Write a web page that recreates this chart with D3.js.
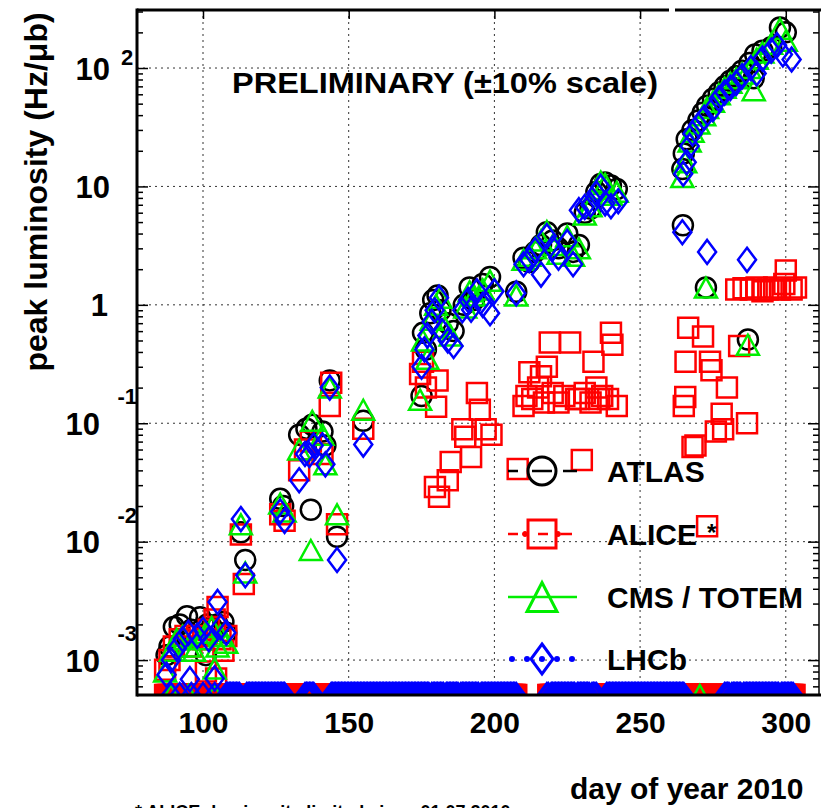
<!DOCTYPE html>
<html>
<head>
<meta charset="utf-8">
<script src="https://cdn.jsdelivr.net/npm/d3@7"></script>
<style>
  body { margin: 0; background: #fff; }
  svg { display: block; font-family: "Liberation Sans", Arial, Helvetica, sans-serif; font-weight: bold; }
</style>
</head>
<body>
<script>
// series names, in legend order
const seriesNames = ["ATLAS", "ALICE", "CMS / TOTEM", "LHCb"];

// [day of year, peak luminosity in Hz/ub]
const atlasPoints = [
  [87.5, 1.1e-3], [88.5, 1.3e-3], [90, 1.9e-3], [92, 2.0e-3], [94.5, 2.35e-3], [96, 1.8e-3], [99, 2.3e-3],
  [101, 1.1e-3], [101.5, 2.0e-3], [103, 1.9e-3], [105, 2.0e-3], [107, 2.1e-3], [108, 1.7e-3],
  [113, 1.2e-2], [114.5, 7.0e-3], [126.5, 2.3e-2], [127.5, 2.0e-2],
  [133, 0.08], [135.5, 0.09], [137, 0.0186], [137.5, 0.097], [141, 0.085], [142, 0.065], [143.5, 0.23],
  [146, 0.011], [155, 0.105],
  [175, 0.17], [175.5, 0.58], [176.5, 0.42], [178, 0.85], [179, 1.1], [180.5, 1.2], [181.5, 0.9], [184, 0.7],
  [186, 0.6], [189.5, 1.0], [191.5, 1.4], [193, 1.1], [196, 1.5], [198.5, 1.72],
  [207.5, 1.29], [210, 2.5], [212, 2.3], [214, 2.8], [216, 3.2], [218, 4.1], [220, 3.5], [222, 3.0], [225, 4.0],
  [227, 2.8], [229, 3.2], [231, 6.0], [233, 6.5], [235, 9.0], [236.5, 10.5], [238, 10.8], [240, 10.2], [242, 9.5],
  [264.5, 14], [264.7, 4.7], [265, 19], [266, 25], [268, 30], [270, 36], [271.5, 42], [272.6, 1.4], [273, 48],
  [275, 55], [277, 62], [279, 70], [281, 78], [283, 85], [285, 95], [287, 0.51], [287.5, 110], [289, 82],
  [289.5, 130], [292, 140], [295, 150], [298, 220], [300, 200]
];

const alicePoints = [
  [87, 8.3e-4], [88.5, 1.0e-3], [90, 1.3e-3], [92, 1.5e-3], [94, 1.6e-3], [96, 1.3e-3], [98, 1.6e-3], [100, 1.5e-3],
  [101, 8e-4], [102, 1.8e-3], [104, 2.2e-3], [104.5, 7e-4], [105, 2.8e-3], [106, 1.5e-3], [107, 1.2e-3], [108, 1.6e-3],
  [113, 1.15e-2], [114, 4.4e-3], [126.5, 1.7e-2], [128, 1.5e-2],
  [133, 0.04], [135, 0.06], [137, 0.07], [141, 0.055], [143.5, 0.14], [144, 0.22], [146, 0.014], [155, 0.09],
  [174.5, 0.26], [175.5, 0.33], [176.5, 0.2], [179.6, 0.029], [180, 0.138], [180.5, 0.23], [181, 0.024],
  [184, 0.033], [185, 0.047], [189, 0.089], [190, 0.077], [192, 0.052], [194, 0.18], [195, 0.13], [197, 0.089], [199, 0.08],
  [208, 0.041], [210, 0.14], [211, 0.17], [212, 0.27], [213, 0.16], [215, 0.2], [216, 0.25], [217, 0.15], [218, 0.3],
  [219, 0.48], [220, 0.18], [222, 0.15], [224, 0.17], [226, 0.48], [228, 0.16], [229, 0.16], [230, 0.049], [231, 0.18],
  [233, 0.15], [234, 0.33], [235, 0.2], [236, 0.16], [237, 0.17], [239, 0.16], [240, 0.58], [240.5, 0.46], [242, 0.14],
  [265, 0.14], [265.5, 0.167], [265.6, 0.33], [266.5, 0.64], [268, 0.063], [269, 0.065], [271.6, 0.54], [273, 0.0135],
  [274, 0.33], [274.5, 0.28], [276, 0.085], [278, 0.12], [278.5, 0.089], [279.8, 0.2], [284, 0.45], [286.7, 0.1],
  [283, 1.35], [285.5, 1.38], [288, 1.35], [290, 1.4], [292, 1.3], [294, 1.35], [296, 1.4], [298, 1.35],
  [299.5, 1.5], [300, 1.95], [302, 1.35], [303.5, 1.4]
];

const cmsPoints = [
  [87, 8e-4], [89, 1.2e-3], [91, 1.5e-3], [93, 1.6e-3], [95, 1.3e-3], [97, 1.2e-3], [99, 1.5e-3], [101, 1.7e-3],
  [103, 1.9e-3], [104, 8.5e-4], [105, 1.3e-3], [106, 1.6e-3], [108, 1.4e-3],
  [113, 1.4e-2], [114.5, 5.5e-3], [126.5, 2.1e-2], [128, 1.8e-2],
  [133, 0.06], [137, 0.0085], [137.5, 0.105], [141, 0.08], [142, 0.045], [143.5, 0.2], [146, 0.017], [155, 0.13],
  [174.5, 0.158], [175.5, 0.5], [177, 0.35], [178.5, 0.75], [180, 1.0], [181.5, 1.15], [183, 0.65], [185, 0.55],
  [190, 0.95], [191.5, 1.3], [193, 1.2], [196, 1.35], [198.5, 1.6],
  [207.5, 1.2], [210, 2.4], [212, 2.6], [214, 3.0], [216, 3.5], [218, 4.2], [220, 3.2], [222, 2.7], [225, 3.8],
  [227, 2.6], [229, 3.0], [231, 5.8], [233, 6.8], [235, 9.5], [236.5, 11], [238, 10.5], [240, 8.5], [242, 9.0],
  [264.5, 12], [265.5, 16], [267, 24], [268, 29], [270, 34], [272, 40], [272.6, 1.4], [273, 46], [275, 52],
  [277, 60], [279, 68], [281, 75], [283, 82], [285, 90], [287, 0.46], [287.5, 100], [289, 65], [290, 120],
  [292, 135], [295, 160], [298, 215], [300, 170]
];

const lhcbPoints = [
  [87.5, 7.5e-4], [89, 1.0e-3], [91, 1.25e-3], [93, 1.5e-3], [95, 1.7e-3], [95.5, 6.9e-4], [98, 1.6e-3], [100, 1.8e-3],
  [102, 1.5e-3], [104, 7e-4], [105, 3.1e-3], [106, 1.9e-3], [108, 1.7e-3],
  [113, 1.55e-2], [114.5, 5.2e-3], [126.5, 1.8e-2], [128, 1.5e-2],
  [133, 0.033], [135, 0.055], [136.5, 0.054], [138, 0.065], [141, 0.065], [142, 0.045], [143.5, 0.2], [146, 0.007], [155, 0.066],
  [175, 0.3], [176, 0.42], [177, 0.55], [178.5, 0.72], [179.5, 0.9], [181, 1.15], [182, 0.6], [184, 0.5], [186, 0.45],
  [189, 0.9], [191, 1.1], [192, 0.91], [194, 1.3], [196, 1.0], [198.5, 0.85], [200, 1.3],
  [207.5, 1.25], [210, 2.2], [212, 2.4], [214, 2.9], [216, 1.8], [218, 3.8], [220, 3.0], [222, 2.5], [225, 3.4],
  [227, 2.2], [229, 6.3], [231, 6.7], [233, 7.0], [235, 8.7], [236.5, 9.9], [238, 7.2], [240, 6.8], [242.5, 7.5],
  [264.5, 4.1], [264.8, 12.8], [266, 16], [267, 22], [268, 28], [270, 33], [272, 38], [273, 2.8], [275, 45],
  [277, 55], [279, 62], [281, 68], [283, 75], [285, 85], [286.7, 2.4], [288, 100], [290, 90], [292, 120],
  [295, 140], [297, 156], [299, 130], [302, 118]
];

// days with zero luminosity (plotted on the bottom edge), as [first day, last day]
const atlasZero = [[270.5, 270.5]];
const aliceZero = [[87, 207.5], [218.5, 274.5], [277, 303]];
const cmsZero = [[89, 89], [95, 95], [104, 104], [178, 178], [183, 183], [188, 188], [195, 195], [219, 219],
  [228, 228], [233, 233], [270.5, 270.5], [281, 281], [285, 285], [298, 298]];
const lhcbZero = [[89, 89], [92, 92], [96, 96], [100, 100], [104, 104], [108, 112.5], [115, 128], [135, 138],
  [144, 177.5], [178.5, 182.5], [183.5, 187.5], [188.5, 194.5], [195.5, 207.5], [218, 218.5], [219.5, 227.5],
  [228.5, 232.5], [233.5, 235], [238.5, 265], [279, 280.5], [281.5, 284.5], [285.5, 297.5], [298.5, 302.5]];

// axis ticks
const xTicks = [100, 150, 200, 250, 300];
const yDecades = [1e-3, 1e-2, 1e-1, 1, 10, 100];
const yTickLabels = [
  { v: 100, base: "10", exp: "2" },
  { v: 10, base: "10", exp: "" },
  { v: 1, base: "1", exp: "" },
  { v: 1e-1, base: "10", exp: "-1" },
  { v: 1e-2, base: "10", exp: "-2" },
  { v: 1e-3, base: "10", exp: "-3" }
];

const width = 821;
const height = 808;
const plot = { left: 137, right: 819, top: 10, bottom: 695 };

const x = d3.scaleLinear().domain([77.35, 311.4]).range([plot.left, plot.right]);
const y = d3.scaleLog().domain([5.07e-4, 309]).range([plot.bottom, plot.top]);

const svg = d3.select("body").append("svg").attr("width", width).attr("height", height);

svg.append("defs").append("clipPath").attr("id", "plotclip")
  .append("rect")
  .attr("x", plot.left).attr("y", plot.top)
  .attr("width", plot.right - plot.left).attr("height", plot.bottom - plot.top);

// dotted grid
const grid = svg.append("g").attr("stroke", "#333").attr("stroke-width", 1).attr("stroke-dasharray", "2,4");
grid.selectAll(".vx").data(xTicks).join("line")
  .attr("x1", (d) => x(d)).attr("x2", (d) => x(d))
  .attr("y1", plot.top).attr("y2", plot.bottom);
grid.selectAll(".hy").data(yDecades).join("line")
  .attr("x1", plot.left).attr("x2", plot.right)
  .attr("y1", (d) => y(d)).attr("y2", (d) => y(d));

// minor ticks (2..9 per decade)
const yMinor = [];
for (let e = -4; e <= 2; e++) {
  for (let m = 2; m <= 9; m++) {
    const v = m * Math.pow(10, e);
    if (v > y.domain()[0] && v < y.domain()[1]) yMinor.push(v);
  }
}

function tickAxis(axis, tx, ty) {
  const g = svg.append("g").attr("transform", `translate(${tx},${ty})`).call(axis);
  g.select(".domain").remove();
  g.selectAll("line").attr("stroke", "#000").attr("stroke-width", 1.5);
  return g;
}
tickAxis(d3.axisRight(y).tickValues(yMinor).tickSize(6).tickFormat(""), plot.left, 0);
tickAxis(d3.axisRight(y).tickValues(yDecades).tickSize(11).tickFormat(""), plot.left, 0);
tickAxis(d3.axisLeft(y).tickValues(yMinor).tickSize(6).tickFormat(""), plot.right, 0);
tickAxis(d3.axisLeft(y).tickValues(yDecades).tickSize(11).tickFormat(""), plot.right, 0);
tickAxis(d3.axisBottom(x).tickValues(xTicks).tickSize(9).tickFormat(""), 0, plot.top);

// markers
const shapes = {
  circle: (s) => `M${-s.r},0A${s.r},${s.r} 0 1,0 ${s.r},0A${s.r},${s.r} 0 1,0 ${-s.r},0Z`,
  square: (s) => `M${-s.r},${-s.r}H${s.r}V${s.r}H${-s.r}Z`,
  triangle: (s) => `M0,${-s.h / 2}L${s.w / 2},${s.h / 2}L${-s.w / 2},${s.h / 2}Z`,
  diamond: (s) => `M0,${-s.h / 2}L${s.w / 2},0L0,${s.h / 2}L${-s.w / 2},0Z`
};

const series = [
  { name: seriesNames[0], pts: atlasPoints, zero: atlasZero, shape: "circle", color: "#000000",
    size: { r: 10 }, legendSize: { r: 14 } },
  { name: seriesNames[1], pts: alicePoints, zero: aliceZero, shape: "square", color: "#ff0000",
    size: { r: 10 }, legendSize: { r: 14 } },
  { name: seriesNames[2], pts: cmsPoints, zero: cmsZero, shape: "triangle", color: "#00ee00",
    size: { w: 22, h: 20 }, legendSize: { w: 30, h: 29 } },
  { name: seriesNames[3], pts: lhcbPoints, zero: lhcbZero, shape: "diamond", color: "#0000ff",
    size: { w: 18, h: 24 }, legendSize: { w: 22, h: 30 } }
];

const dataLayer = svg.append("g").attr("clip-path", "url(#plotclip)");

series.forEach((s) => {
  const g = dataLayer.append("g")
    .attr("fill", "none").attr("stroke", s.color).attr("stroke-width", 2.5);

  // zero-luminosity entries sit on the bottom edge, two per day
  const zeroDays = s.zero.flatMap(([a, b]) => d3.range(a, b + 0.001, 0.5));
  g.selectAll(".z").data(zeroDays).join("path")
    .attr("transform", (d) => `translate(${x(d)},${plot.bottom})`)
    .attr("d", shapes[s.shape](s.size));

  g.selectAll(".p").data(s.pts).join("path")
    .attr("transform", (d) => `translate(${x(d[0])},${y(d[1])})`)
    .attr("d", shapes[s.shape](s.size));
});

// frame
const frame = svg.append("g").attr("stroke", "#000").attr("fill", "none");
frame.append("line").attr("x1", plot.left).attr("x2", plot.left).attr("y1", plot.top - 1.5).attr("y2", plot.bottom + 1.5).attr("stroke-width", 3);
frame.append("line").attr("x1", plot.left).attr("x2", width).attr("y1", plot.bottom).attr("y2", plot.bottom).attr("stroke-width", 3);
frame.append("line").attr("x1", plot.left).attr("x2", 669).attr("y1", plot.top).attr("y2", plot.top).attr("stroke-width", 3);
frame.append("line").attr("x1", 675).attr("x2", width).attr("y1", plot.top).attr("y2", plot.top).attr("stroke-width", 3);
frame.append("line").attr("x1", plot.right).attr("x2", plot.right).attr("y1", plot.top).attr("y2", plot.bottom).attr("stroke-width", 1.5);

// x tick labels
const xAxis = svg.append("g")
  .attr("transform", `translate(0,${plot.bottom})`)
  .call(d3.axisBottom(x).tickValues(xTicks).tickSize(0).tickPadding(17));
xAxis.select(".domain").remove();
xAxis.selectAll("text")
  .attr("fill", "#000")
  .style("font-size", "30px")
  .style("font-weight", "bold")
  .style("font-family", "'Liberation Sans', Arial, sans-serif");

// y tick labels: 10 with exponent
const yl = svg.append("g").attr("fill", "#000");
yTickLabels.forEach((t) => {
  const neg = t.exp.startsWith("-");
  const baseRight = neg ? 100 : t.base === "1" ? 108 : 110;
  yl.append("text")
    .attr("x", baseRight).attr("y", y(t.v) + 11.5)
    .attr("text-anchor", "end")
    .style("font-size", "31px")
    .text(t.base);
  if (t.exp) {
    yl.append("text")
      .attr("x", neg ? plot.left : 121)
      .attr("y", neg ? y(t.v) - 19 : y(t.v) - 3)
      .attr("text-anchor", neg ? "end" : "start")
      .style("font-size", "22px")
      .text(t.exp);
  }
});

// titles
svg.append("text")
  .attr("transform", "translate(47,192) rotate(-90)")
  .attr("text-anchor", "middle")
  .style("font-size", "32px")
  .text("peak luminosity (Hz/\u03bcb)");

svg.append("text")
  .attr("x", 570).attr("y", 799)
  .style("font-size", "30px")
  .text("day of year 2010");

svg.append("text")
  .attr("x", 232).attr("y", 93)
  .attr("textLength", 426).attr("lengthAdjust", "spacingAndGlyphs")
  .style("font-size", "30px")
  .text("PRELIMINARY (\u00b110% scale)");

// footnote, cut by the bottom edge as in the original
svg.append("text")
  .attr("x", 135).attr("y", 818)
  .style("font-size", "18px")
  .text("* ALICE: luminosity limited since 01.07.2010");

// legend
const legendRows = [471, 534, 597, 659];
const lx0 = 508, lx1 = 577, lcx = 542;
const legend = svg.append("g");

series.forEach((s, i) => {
  const ry = legendRows[i];
  const g = legend.append("g").attr("stroke", s.color).attr("fill", "none");
  const line = g.append("line")
    .attr("x1", lx0).attr("x2", lx1).attr("y1", ry).attr("y2", ry)
    .attr("stroke-width", 2.5);
  if (i === 0) line.attr("stroke-dasharray", "10,14,20,11,14");
  if (i === 1) {
    line.attr("stroke-dasharray", "10,20,10,13,11,10,14");
    g.selectAll(".dot").data([525, 558]).join("circle")
      .attr("cx", (d) => d).attr("cy", ry).attr("r", 2.5).attr("fill", s.color);
  }
  if (i === 3) {
    line.remove();
    g.selectAll(".dot").data([512, 527, lcx, 557, 572]).join("circle")
      .attr("cx", (d) => d).attr("cy", ry).attr("r", 3).attr("fill", s.color).attr("stroke", "none");
  }
  g.append("path")
    .attr("transform", `translate(${lcx},${ry})`)
    .attr("d", shapes[s.shape](s.legendSize))
    .attr("stroke-width", 3);

  legend.append("text")
    .attr("x", 607).attr("y", ry + 11)
    .attr("fill", "#000")
    .style("font-size", "30px")
    .text(s.name);
});

legend.append("text")
  .attr("x", 707).attr("y", 541)
  .style("font-size", "24px")
  .text("*");
</script>
</body>
</html>
